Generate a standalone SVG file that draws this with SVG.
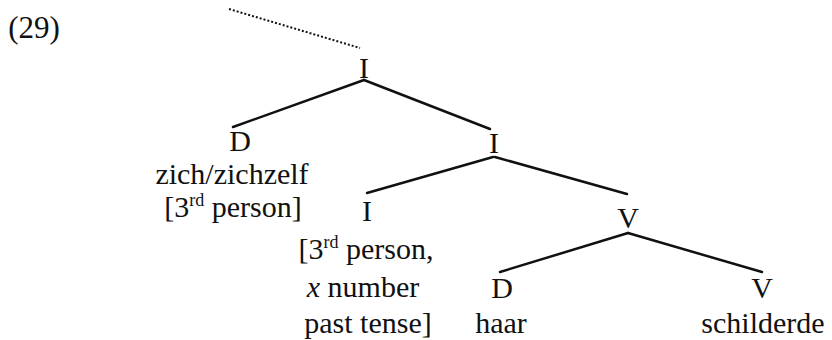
<svg xmlns="http://www.w3.org/2000/svg" width="832" height="340" viewBox="0 0 832 340">
<style>
text{font-family:"Liberation Serif","Times New Roman",serif;font-size:30px;fill:#111;text-anchor:middle}
.sup{font-size:18px}
.edge{stroke:#111;stroke-width:2.5;fill:none;stroke-linecap:round}
.dot{stroke:#111;stroke-width:2;stroke-dasharray:2 2;fill:none}
</style>
<rect width="832" height="340" fill="#fff"/>
<text x="34" y="38" style="font-size:31px">(29)</text>
<g id="connectors">
<line class="dot" x1="229" y1="9" x2="360" y2="48"/>
<line class="edge" x1="364" y1="80" x2="233" y2="127"/>
<line class="edge" x1="364" y1="80" x2="490" y2="129"/>
<line class="edge" x1="493" y1="157" x2="367" y2="193"/>
<line class="edge" x1="495" y1="157" x2="627" y2="194"/>
<line class="edge" x1="628" y1="233" x2="500" y2="272"/>
<line class="edge" x1="628" y1="233" x2="762" y2="272"/>
</g>
<g id="I-top"><text x="364" y="78">I</text></g>
<g id="D-refl">
<text x="240" y="151">D</text>
<text x="232" y="184">zich/zichzelf</text>
<text x="233" y="217">[3<tspan class="sup" dy="-11">rd</tspan><tspan dy="11"> person]</tspan></text>
</g>
<g id="I-mid"><text x="494" y="153">I</text></g>
<g id="I-low">
<text x="367" y="221">I</text>
<text x="366" y="259">[3<tspan class="sup" dy="-11">rd</tspan><tspan dy="11"> person,</tspan></text>
<text x="363" y="297"><tspan font-style="italic">x</tspan> number</text>
<text x="368" y="333">past tense]</text>
</g>
<g id="V-mid"><text x="628" y="228">V</text></g>
<g id="D-haar">
<text x="502" y="298">D</text>
<text x="501" y="333">haar</text>
</g>
<g id="V-low">
<text x="762" y="298">V</text>
<text x="763" y="333">schilderde</text>
</g>
</svg>
